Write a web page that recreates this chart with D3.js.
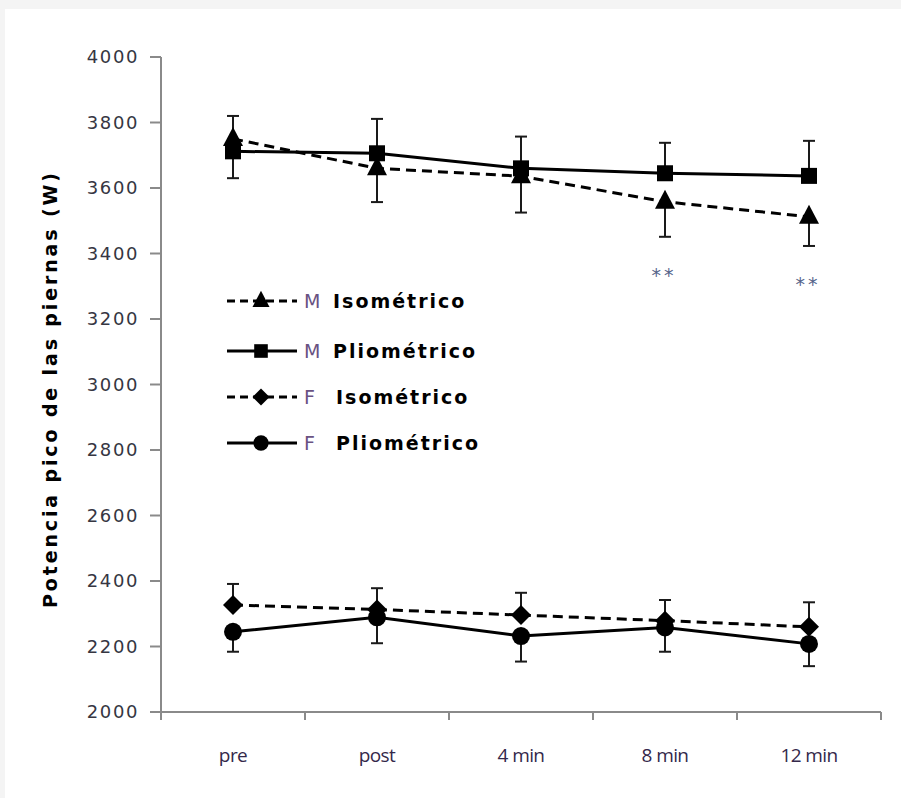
<!DOCTYPE html>
<html>
<head>
<meta charset="utf-8">
<script src="https://cdn.jsdelivr.net/npm/d3@7"></script>
<style>
  html, body { margin: 0; padding: 0; background: #f4f4f4; }
  svg { display: block; }
</style>
</head>
<body>
<svg id="chart" width="901" height="798"></svg>
<script>
// categories on the x axis
const categories = ["pre", "post", "4 min", "8 min", "12 min"];
const yTicks = [2000, 2200, 2400, 2600, 2800, 3000, 3200, 3400, 3600, 3800, 4000];

// series means (W) and one-sided SD
const mIso = [3750, 3660, 3636, 3558, 3512];
const mIsoErr = [120, 103, 111, 107, 89];
const mPlio = [3712, 3706, 3660, 3645, 3637];
const mPlioErr = [108, 105, 97, 93, 107];
const fIso = [2327, 2313, 2296, 2279, 2260];
const fIsoErr = [64, 65, 68, 63, 75];
const fPlio = [2245, 2289, 2232, 2258, 2208];
const fPlioErr = [61, 79, 78, 74, 68];

// significance marks under M Isométrico
const sigCats = ["8 min", "12 min"];
const sigValues = [3356, 3328];

const legendSex = ["M", "M", "F", "F"];
const legendNames = ["Isométrico", "Pliométrico", "Isométrico", "Pliométrico"];

const series = [
  { values: mIso, err: mIsoErr, dir: -1, dashed: true, shape: "triangle" },
  { values: mPlio, err: mPlioErr, dir: 1, dashed: false, shape: "square" },
  { values: fIso, err: fIsoErr, dir: 1, dashed: true, shape: "diamond" },
  { values: fPlio, err: fPlioErr, dir: -1, dashed: false, shape: "circle" }
];

const svg = d3.select("#chart");

// white plot panel
svg.append("rect")
  .attr("x", 5).attr("y", 9)
  .attr("width", 896).attr("height", 789)
  .attr("fill", "#ffffff");

const plotLeft = 161, plotRight = 881, plotTop = 57, plotBottom = 712;

const x = d3.scaleBand().domain(categories).range([plotLeft, plotRight]);
const y = d3.scaleLinear().domain([2000, 4000]).range([plotBottom, plotTop]);
const cx = c => x(c) + x.bandwidth() / 2;

const axisColor = "#8a8a8a";

// y axis
const yAxis = svg.append("g");
yAxis.append("line")
  .attr("x1", plotLeft).attr("x2", plotLeft)
  .attr("y1", y(4000)).attr("y2", y(2000))
  .attr("stroke", axisColor).attr("stroke-width", 2);
yAxis.selectAll(".ytick")
  .data(yTicks)
  .join("line")
  .attr("x1", plotLeft - 11).attr("x2", plotLeft)
  .attr("y1", d => y(d)).attr("y2", d => y(d))
  .attr("stroke", axisColor).attr("stroke-width", 2);
yAxis.selectAll(".ylab")
  .data(yTicks)
  .join("text")
  .attr("x", 139)
  .attr("y", d => y(d))
  .attr("dy", "0.36em")
  .attr("text-anchor", "end")
  .attr("font-family", "DejaVu Sans")
  .attr("font-size", 18)
  .attr("letter-spacing", 1.6)
  .attr("fill", "#363642")
  .text(d => d);

// x axis
const xAxis = svg.append("g");
xAxis.append("line")
  .attr("x1", plotLeft - 1).attr("x2", plotRight)
  .attr("y1", plotBottom).attr("y2", plotBottom)
  .attr("stroke", axisColor).attr("stroke-width", 2);
xAxis.selectAll(".xtick")
  .data(categories.map(c => x(c)).concat([plotRight]))
  .join("line")
  .attr("x1", d => d).attr("x2", d => d)
  .attr("y1", plotBottom).attr("y2", plotBottom + 8)
  .attr("stroke", axisColor).attr("stroke-width", 2);
xAxis.selectAll(".xlab")
  .data(categories)
  .join("text")
  .attr("x", d => cx(d))
  .attr("y", 762)
  .attr("text-anchor", "middle")
  .attr("font-family", "Open Sans")
  .attr("font-size", 19)
  .attr("letter-spacing", -0.6)
  .attr("fill", "#34284a")
  .text(d => d);

// y title
svg.append("text")
  .attr("transform", `translate(57, ${(173 + 608) / 2}) rotate(-90)`)
  .attr("text-anchor", "middle")
  .attr("font-family", "DejaVu Sans")
  .attr("font-weight", "bold")
  .attr("font-size", 19)
  .attr("textLength", 435)
  .attr("lengthAdjust", "spacing")
  .attr("fill", "#000")
  .text("Potencia pico de las piernas (W)");

// marker helper
function drawMarker(g, shape, px, py, k = 1) {
  if (shape === "circle") {
    g.append("circle").attr("cx", px).attr("cy", py).attr("r", 9 * k).attr("fill", "#000");
  } else if (shape === "square") {
    g.append("rect").attr("x", px - 8 * k).attr("y", py - 8 * k)
      .attr("width", 16 * k).attr("height", 16 * k).attr("fill", "#000");
  } else if (shape === "triangle") {
    g.append("path")
      .attr("d", `M${px},${py - 12 * k}L${px + 10 * k},${py + 7 * k}L${px - 10 * k},${py + 7 * k}Z`)
      .attr("fill", "#000");
  } else if (shape === "diamond") {
    g.append("path")
      .attr("d", `M${px},${py - 10 * k}L${px + 10 * k},${py}L${px},${py + 10 * k}L${px - 10 * k},${py}Z`)
      .attr("fill", "#000");
  }
}

const line = d3.line().x((d, i) => cx(categories[i])).y(d => y(d));

// error bars
const errG = svg.append("g");
series.forEach(s => {
  s.values.forEach((v, i) => {
    const px = cx(categories[i]);
    const end = y(v + s.dir * s.err[i]);
    errG.append("line")
      .attr("x1", px).attr("x2", px)
      .attr("y1", y(v)).attr("y2", end)
      .attr("stroke", "#1a1a1a").attr("stroke-width", 2);
    errG.append("line")
      .attr("x1", px - 6).attr("x2", px + 6)
      .attr("y1", end).attr("y2", end)
      .attr("stroke", "#1a1a1a").attr("stroke-width", 2);
  });
});

// lines
const lineG = svg.append("g");
series.forEach(s => {
  lineG.append("path")
    .datum(s.values)
    .attr("d", line)
    .attr("fill", "none")
    .attr("stroke", "#000")
    .attr("stroke-width", 3)
    .attr("stroke-dasharray", s.dashed ? "10,6" : null);
});

// markers
const markG = svg.append("g");
series.forEach(s => {
  s.values.forEach((v, i) => drawMarker(markG, s.shape, cx(categories[i]), y(v)));
});

// significance asterisks
svg.selectAll(".sig")
  .data(sigCats)
  .join("text")
  .attr("x", d => cx(d) - 1)
  .attr("y", (d, i) => y(sigValues[i]))
  .attr("dy", "0.72em")
  .attr("text-anchor", "middle")
  .attr("font-family", "DejaVu Sans")
  .attr("font-size", 19)
  .attr("letter-spacing", 3)
  .attr("fill", "#56648a")
  .text("**");

// legend
const legendY = [301, 351, 397, 443];
const legend = svg.append("g");
series.forEach((s, i) => {
  const ly = legendY[i];
  legend.append("line")
    .attr("x1", 227).attr("x2", 297)
    .attr("y1", ly).attr("y2", ly)
    .attr("stroke", "#000").attr("stroke-width", 3)
    .attr("stroke-dasharray", s.dashed ? "8,5" : null);
  drawMarker(legend, s.shape, 261, ly, 0.85);
  legend.append("text")
    .attr("x", 304).attr("y", ly)
    .attr("dy", "0.36em")
    .attr("font-family", "DejaVu Sans")
    .attr("font-size", 19)
    .attr("fill", "#6a5282")
    .text(legendSex[i]);
  legend.append("text")
    .attr("x", legendSex[i] === "M" ? 333 : 336).attr("y", ly)
    .attr("dy", "0.36em")
    .attr("font-family", "DejaVu Sans")
    .attr("font-weight", "bold")
    .attr("font-size", 19)
    .attr("letter-spacing", 2)
    .attr("fill", "#000")
    .text(legendNames[i]);
});
</script>
</body>
</html>
